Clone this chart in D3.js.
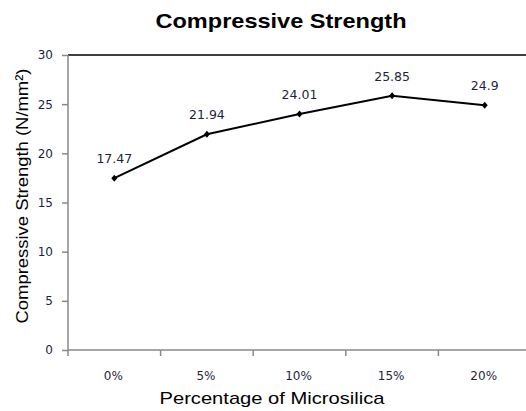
<!DOCTYPE html>
<html><head><meta charset="utf-8">
<script src="https://cdn.jsdelivr.net/npm/d3@7"></script>
<style>body{margin:0;background:#fff}</style>
</head><body>
<svg id="c" width="526" height="411"></svg>
<script>
const categories = ["0%", "5%", "10%", "15%", "20%"];
const values = [17.47, 21.94, 24.01, 25.85, 24.9];
const yTicks = [0, 5, 10, 15, 20, 25, 30];

const svg = d3.select("#c");
const plotLeft = 68, plotTop = 55, plotBottom = 350, catW = 92.6;
const plotRight = plotLeft + catW * categories.length;

const x = d3.scaleBand().domain(categories).range([plotLeft, plotRight]);
const y = d3.scaleLinear().domain([0, 30]).range([plotBottom, plotTop]);

const txt = "#1f1f3a";

// top border
svg.append("line").attr("x1", plotLeft).attr("x2", 526).attr("y1", y(30)).attr("y2", y(30))
  .attr("stroke", "#000").attr("stroke-width", 1.5);

// y axis
const ya = svg.append("g").attr("transform", `translate(${plotLeft},0)`)
  .call(d3.axisLeft(y).tickValues(yTicks).tickSize(6).tickPadding(9));
ya.selectAll("path,line").attr("stroke", "#888").attr("stroke-width", 1.5);
ya.select(".domain").attr("d", `M0,${y(0)}V${y(30)}`);
ya.selectAll("text").attr("font-family", "DejaVu Sans, sans-serif").attr("font-size", 12).attr("fill", txt);

// x axis
const boundaries = d3.range(categories.length + 1).map(i => plotLeft + i * x.step());
const xa = svg.append("g");
xa.append("line").attr("x1", plotLeft).attr("x2", plotRight).attr("y1", plotBottom).attr("y2", plotBottom)
  .attr("stroke", "#888").attr("stroke-width", 1.5);
xa.selectAll("line.t").data(boundaries).join("line").attr("class", "t")
  .attr("x1", d => d).attr("x2", d => d).attr("y1", plotBottom).attr("y2", plotBottom + 6)
  .attr("stroke", "#888").attr("stroke-width", 1.5);
xa.selectAll("text").data(categories).join("text")
  .attr("x", d => x(d) + x.bandwidth() / 2 - 1).attr("y", 380)
  .attr("text-anchor", "middle").attr("font-family", "DejaVu Sans, sans-serif")
  .attr("font-size", 12).attr("fill", txt).text(d => d);

// line
const pts = categories.map((c, i) => [x(c) + x.bandwidth() / 2, y(values[i])]);
svg.append("path").attr("d", d3.line()(pts)).attr("fill", "none")
  .attr("stroke", "#000").attr("stroke-width", 2);
svg.selectAll("path.m").data(pts).join("path").attr("class", "m")
  .attr("d", d => `M${d[0]},${d[1]-3.5}L${d[0]+3},${d[1]}L${d[0]},${d[1]+3.5}L${d[0]-3},${d[1]}Z`)
  .attr("fill", "#000");
svg.selectAll("text.v").data(values).join("text").attr("class", "v")
  .attr("x", (d, i) => pts[i][0]).attr("y", (d, i) => pts[i][1] - 15)
  .attr("text-anchor", "middle").attr("font-family", "DejaVu Sans, sans-serif")
  .attr("font-size", 12.5).attr("fill", txt).text(d => d);

// titles
svg.append("text").attr("x", 281).attr("y", 28).attr("text-anchor", "middle")
  .attr("font-family", "Liberation Sans, Arial, sans-serif").attr("font-weight", "bold")
  .attr("font-size", 21).attr("fill", "#000")
  .attr("textLength", 251).attr("lengthAdjust", "spacingAndGlyphs").text("Compressive Strength");
svg.append("text").attr("x", 272).attr("y", 404).attr("text-anchor", "middle")
  .attr("font-family", "Liberation Sans, Arial, sans-serif").attr("font-size", 17)
  .attr("fill", "#000").attr("textLength", 225).attr("lengthAdjust", "spacingAndGlyphs")
  .text("Percentage of Microsilica");
svg.append("text").attr("transform", "translate(28,196) rotate(-90)").attr("text-anchor", "middle")
  .attr("font-family", "Liberation Sans, Arial, sans-serif").attr("font-size", 17)
  .attr("fill", "#000").attr("textLength", 255).attr("lengthAdjust", "spacingAndGlyphs")
  .text("Compressive Strength (N/mm²)");
</script>
</body></html>
